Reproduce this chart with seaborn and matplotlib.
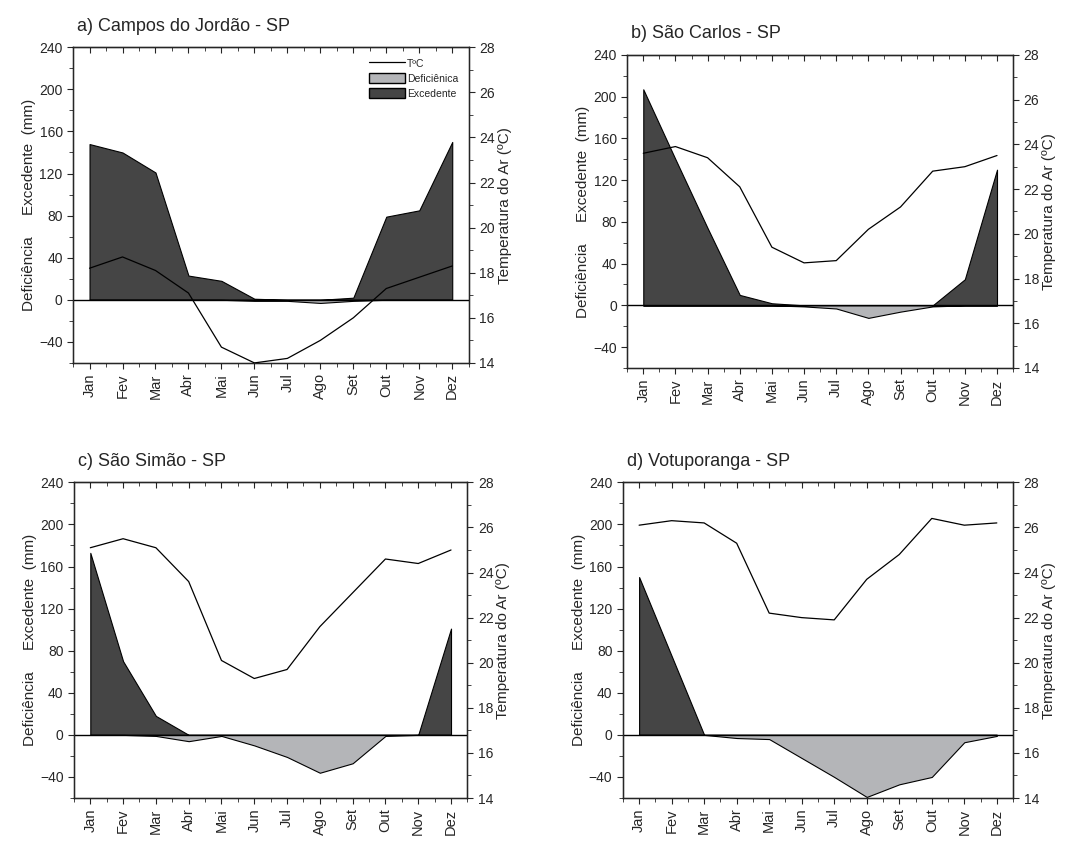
import seaborn as sns
import matplotlib.pyplot as plt
import matplotlib.patches as mpatches
import matplotlib.lines as mlines
from matplotlib.ticker import MultipleLocator
import pandas as pd

# Monthly water balance data
months = ["Jan", "Fev", "Mar", "Abr", "Mai", "Jun", "Jul", "Ago", "Set", "Out", "Nov", "Dez"]
month_num = list(range(1, 13))

titles = ["a) Campos do Jordão - SP", "b) São Carlos - SP",
          "c) São Simão - SP", "d) Votuporanga - SP"]

exc_campos = [148, 140, 121, 23, 18, 1, 0, 0, 2, 79, 85, 150]
def_campos = [0, 0, 0, 0, 0, -1, -1, -3, -1, 0, 0, 0]
temp_campos = [18.2, 18.7, 18.1, 17.1, 14.7, 14.0, 14.2, 15.0, 16.0, 17.3, 17.8, 18.3]

exc_carlos = [207, 140, 74, 10, 2, 0, 0, 0, 0, 0, 25, 130]
def_carlos = [0, 0, 0, 0, 0, -1, -3, -12, -6, -1, 0, 0]
temp_carlos = [23.6, 23.9, 23.4, 22.1, 19.4, 18.7, 18.8, 20.2, 21.2, 22.8, 23.0, 23.5]

exc_simao = [173, 70, 18, 0, 0, 0, 0, 0, 0, 0, 0, 101]
def_simao = [0, 0, -1, -6, -1, -10, -21, -36, -27, -1, 0, 0]
temp_simao = [25.1, 25.5, 25.1, 23.6, 20.1, 19.3, 19.7, 21.6, 23.1, 24.6, 24.4, 25.0]

exc_votu = [150, 75, 0, 0, 0, 0, 0, 0, 0, 0, 0, 0]
def_votu = [0, 0, 0, -3, -4, -22, -40, -59, -47, -40, -7, -1]
temp_votu = [26.1, 26.3, 26.2, 25.3, 22.2, 22.0, 21.9, 23.7, 24.8, 26.4, 26.1, 26.2]

exc_all = [exc_campos, exc_carlos, exc_simao, exc_votu]
def_all = [def_campos, def_carlos, def_simao, def_votu]
temp_all = [temp_campos, temp_carlos, temp_simao, temp_votu]

sns.set_style("ticks")
plt.rcParams['font.family'] = ['Liberation Sans', 'DejaVu Sans']
plt.rcParams['xtick.direction'] = 'out'
plt.rcParams['ytick.direction'] = 'out'

fig = plt.figure(figsize=(10.87, 8.44), dpi=100)
positions = [
    [0.0672, 0.570, 0.364, 0.374],
    [0.577, 0.564, 0.355, 0.371],
    [0.068, 0.0545, 0.362, 0.374],
    [0.573, 0.0545, 0.359, 0.374],
]

exc_color = "#454545"
def_color = "#b4b5b8"

for i in range(4):
    ax = fig.add_axes(positions[i])
    df = pd.DataFrame({"mes": month_num, "exc": exc_all[i],
                       "def": def_all[i], "temp": temp_all[i]})

    ax.fill_between(df["mes"], df["exc"], 0, color=exc_color,
                    edgecolor="black", linewidth=0.8, zorder=2)
    ax.fill_between(df["mes"], df["def"], 0, color=def_color,
                    edgecolor="black", linewidth=0.8, zorder=2)
    ax.axhline(0, color="black", linewidth=1.0, zorder=3)

    ax.set_xlim(0.5, 12.5)
    ax.set_ylim(-60, 240)
    ax.set_xticks(month_num)
    ax.set_xticklabels(months, rotation=90, fontsize=10.5)
    ax.xaxis.set_minor_locator(MultipleLocator(0.5))
    ax.yaxis.set_major_locator(MultipleLocator(40))
    ax.yaxis.set_minor_locator(MultipleLocator(20))
    ax.tick_params(axis="y", labelsize=10, length=4)
    ax.tick_params(axis="x", which="major", length=4)
    ax.tick_params(axis="x", which="minor", length=3)
    ax.tick_params(axis="y", which="minor", length=3)
    ax.set_xlabel("")
    ax.set_ylabel("Deficiência     Excedente  (mm)", fontsize=11, labelpad=2)
    ax.set_title(titles[i], loc="left", fontsize=13, pad=12, x=0.01)
    for s in ax.spines.values():
        s.set_linewidth(1.0)
        s.set_color("black")

    # inward ticks along the top edge
    top = ax.secondary_xaxis("top")
    top.set_xticks(month_num)
    top.xaxis.set_minor_locator(MultipleLocator(0.5))
    top.tick_params(axis="x", which="major", direction="in", length=4, labeltop=False)
    top.tick_params(axis="x", which="minor", direction="in", length=3)

    ax2 = ax.twinx()
    sns.lineplot(data=df, x="mes", y="temp", ax=ax2, color="black",
                 linewidth=0.9, zorder=4)
    ax2.set_ylim(14, 28)
    ax2.yaxis.set_major_locator(MultipleLocator(2))
    ax2.yaxis.set_minor_locator(MultipleLocator(1))
    ax2.tick_params(axis="y", labelsize=10, length=4)
    ax2.tick_params(axis="y", which="minor", length=3)
    ax2.set_ylabel("Temperatura do Ar (ºC)", fontsize=11, labelpad=2)
    ax2.set_xlabel("")
    ax2.set_xlim(0.5, 12.5)

    if i == 0:
        handles = [
            mlines.Line2D([], [], color="black", linewidth=0.9, label="TºC"),
            mpatches.Patch(facecolor=def_color, edgecolor="black", label="Deficiênica"),
            mpatches.Patch(facecolor=exc_color, edgecolor="black", label="Excedente"),
        ]
        ax2.legend(handles=handles, loc="upper right", fontsize=7.5,
                   frameon=False, handlelength=3.5, handleheight=1.2,
                   borderaxespad=0.6, handletextpad=0.2, labelspacing=0.4)

plt.savefig("out.png", dpi=100)
